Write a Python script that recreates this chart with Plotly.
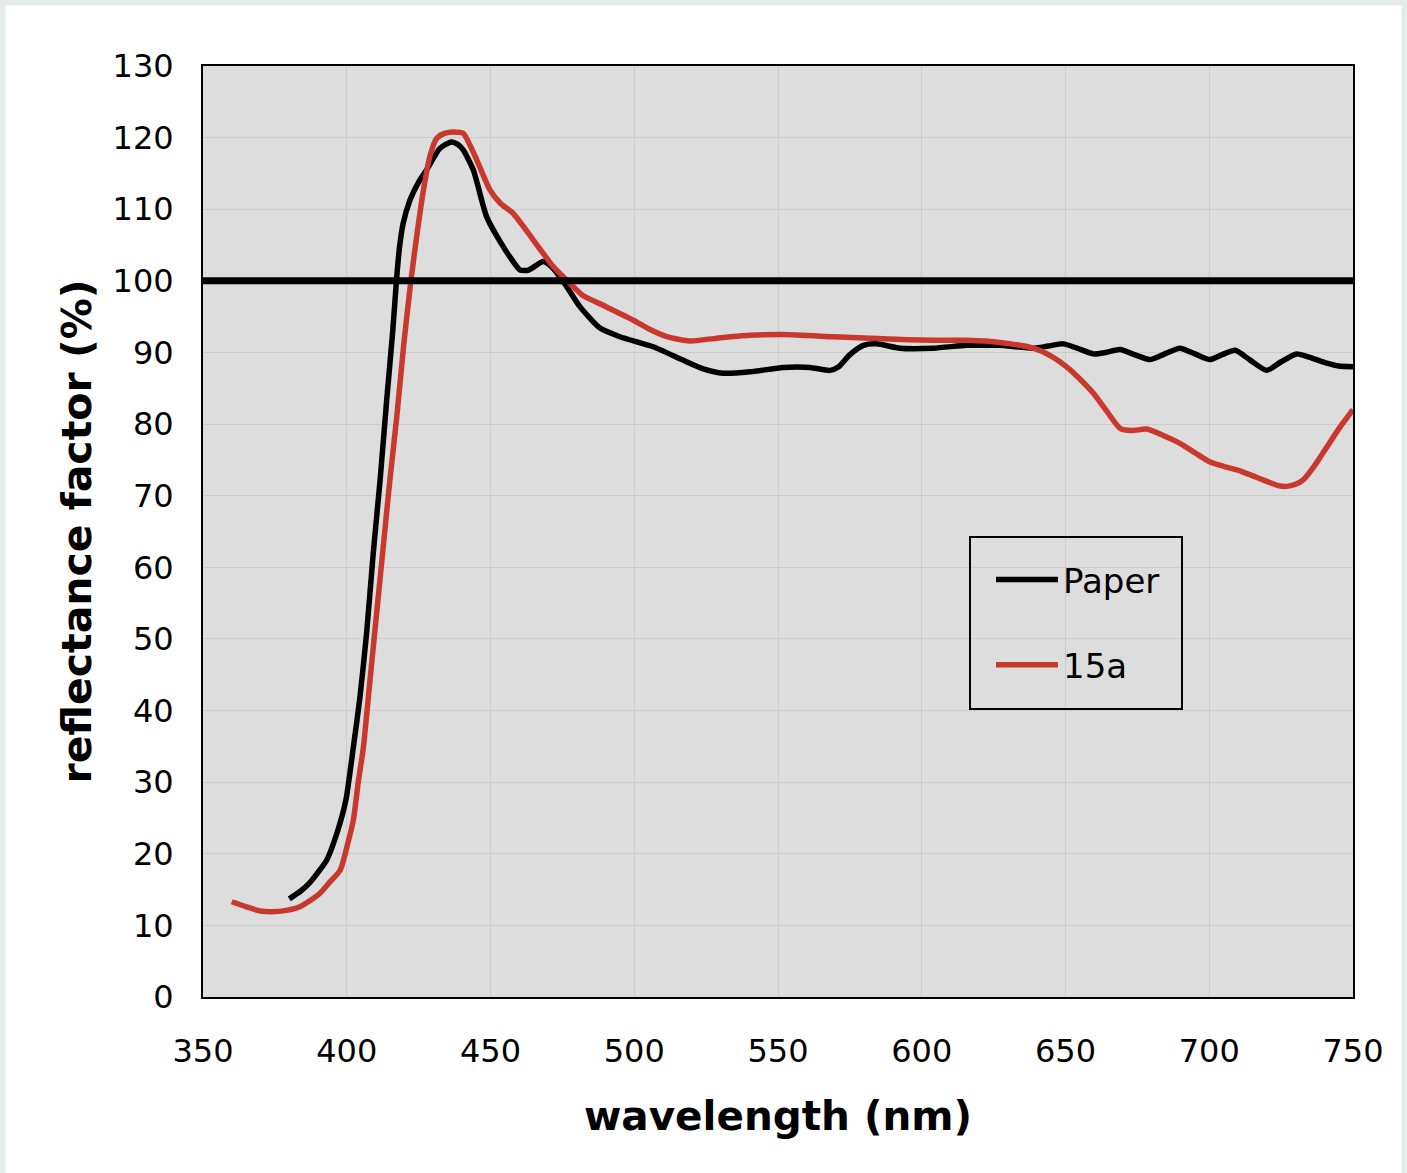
import plotly.graph_objects as go

# ---- data ----
paper_nm = [380, 384, 387, 390, 393, 396.6, 399.7, 402.3, 404.6, 406.9, 409.2, 411.6, 413.9,
            416, 417.3, 418.3, 419.6, 422, 425, 427.8, 432.4, 436.4, 438.5, 440.5, 444, 448.7, 453.3,
            457, 460.3, 463.2, 468.4, 471.9, 476.5, 481.1, 488.1, 495, 506.6, 517.1, 524,
            531, 540.3, 551.9, 561.1, 568.1, 571.1, 575, 579.7, 584.3, 592.4, 604, 615.6,
            621.4, 627.2, 638.8, 644, 649.2, 654, 659.7, 664, 669, 674, 679.4, 684, 689.8,
            695, 700.3, 704.5, 709, 714, 720, 725, 730.4, 735, 740.9, 745, 750]
paper_val = [13.7, 14.8, 15.9, 17.4, 19.1, 22.9, 27.5, 34.9, 41.9, 50.8, 61.9, 72.2, 83.4,
             93, 100.1, 104.5, 108, 111.3, 113.8, 115.5, 118.5, 119.4, 119.1, 118.3, 115.5, 108.9, 105.5,
             103.2, 101.5, 101.5, 102.7, 101.7, 99.2, 96.4, 93.4, 92.2, 90.8, 88.9, 87.7,
             87.1, 87.3, 87.9, 87.9, 87.5, 88.0, 89.7, 91.0, 91.2, 90.6, 90.6, 91.0,
             91.0, 91.0, 90.6, 90.9, 91.2, 90.6, 89.8, 90.0, 90.4, 89.7, 89.0, 89.7, 90.6,
             89.8, 89.0, 89.7, 90.3, 89.0, 87.5, 88.7, 89.8, 89.3, 88.5, 88.1, 88.0]

s15a_nm = [360, 365, 370, 374, 379, 383.7, 387, 390.7, 394, 397.7, 400.4, 402.3, 404, 405.8,
           408.1, 410.4, 412.7, 415, 417.4, 419.8, 422.3, 424.6, 426.8, 429, 431.3,
           434, 437.1, 440.5, 442.8, 445.2, 449.8, 453.5, 457.9, 464.9, 471.8, 476.5, 482,
           488.1, 499.7, 505, 511.3, 519.4, 528.7, 540.3, 551.9, 569.3, 586.6, 604, 615.6,
           627.2, 638.8, 645, 650.4, 655, 659.7, 664, 669, 673, 678.3, 684, 689.8, 695,
           700.3, 705, 709.6, 715, 720, 724, 727, 730, 732.7, 737, 740.9, 745, 750]
s15a_val = [13.3, 12.6, 12.0, 11.9, 12.1, 12.6, 13.4, 14.5, 16.0, 17.7, 21.5, 24.7, 30, 34.9,
            44.3, 53.6, 62.9, 72.2, 81, 91, 100, 107, 113, 117.5, 119.9,
            120.6, 120.8, 120.6, 119, 116.9, 112.7, 110.8, 109.4, 105.7, 102.0, 100.1, 98,
            96.8, 94.5, 93.3, 92.2, 91.6, 92.0, 92.4, 92.5, 92.2, 91.9, 91.7, 91.7,
            91.4, 90.6, 89.5, 88.0, 86.3, 84.3, 82.0, 79.4, 79.1, 79.3, 78.4, 77.3, 76.0,
            74.7, 74.1, 73.6, 72.8, 72.0, 71.4, 71.3, 71.6, 72.2, 74.4, 76.8, 79.3, 82.0]

reference_level = 100
x_ticks = [350, 400, 450, 500, 550, 600, 650, 700, 750]
y_ticks = [0, 10, 20, 30, 40, 50, 60, 70, 80, 90, 100, 110, 120, 130]
series_names = ["Paper", "15a"]

FONT = "DejaVu Sans"
RED = "#c9382c"

fig = go.Figure()
fig.add_trace(go.Scatter(x=paper_nm, y=paper_val, mode="lines", name=series_names[0],
                         line=dict(color="black", width=5.5, shape="spline", smoothing=0.6),
                         legendgroup="a"))
fig.add_trace(go.Scatter(x=s15a_nm, y=s15a_val, mode="lines", name=series_names[1],
                         line=dict(color=RED, width=5.5, shape="spline", smoothing=0.6),
                         legendgroup="b"))

fig.add_hline(y=reference_level, line=dict(color="black", width=7))

W, H = 1407, 1173
ml, mr, mt, mb = 203, 54, 66, 176
pw, ph = W - ml - mr, H - mt - mb


def px_x(p):
    return (p - ml) / pw


def px_y(p):
    return (H - mb - p) / ph


# outer light frame of the picture (left, top, right)
fig.add_shape(type="rect", xref="paper", yref="paper",
              x0=px_x(0), x1=px_x(W), y0=px_y(H + 40), y1=px_y(0),
              line=dict(color="#e4ecea", width=11), fillcolor="rgba(0,0,0,0)", layer="above")
# legend frame
fig.add_shape(type="rect", xref="paper", yref="paper",
              x0=px_x(970), x1=px_x(1182), y0=px_y(709), y1=px_y(537),
              line=dict(color="black", width=2), fillcolor="rgba(0,0,0,0)", layer="above")

fig.update_layout(
    width=W, height=H,
    margin=dict(l=ml, r=mr, t=mt, b=mb, pad=0),
    paper_bgcolor="white",
    plot_bgcolor="#dddddd",
    font=dict(family=FONT, size=32, color="black"),
    showlegend=True,
    legend=dict(x=px_x(991), y=px_y(551), xanchor="left", yanchor="top",
                bgcolor="rgba(0,0,0,0)", borderwidth=0,
                font=dict(family=FONT, size=34, color="black"),
                traceorder="grouped", tracegroupgap=38, itemwidth=62),
    xaxis=dict(range=[350, 750], tickvals=x_ticks, ticks="", showgrid=True,
               gridcolor="#cbcbcb", gridwidth=1, showline=True, linecolor="black",
               linewidth=2, mirror=True, zeroline=False, ticklabelstandoff=25,
               tickfont=dict(size=32),
               title=dict(text="<b>wavelength (nm)</b>", font=dict(size=40.5), standoff=32)),
    yaxis=dict(range=[0, 130], tickvals=y_ticks, ticks="", showgrid=True,
               gridcolor="#cbcbcb", gridwidth=1, showline=True, linecolor="black",
               linewidth=2, mirror=True, zeroline=False, ticklabelstandoff=21,
               tickfont=dict(size=32),
               title=dict(text="<b>reflectance factor (%)</b>", font=dict(size=41), standoff=8)),
)

fig.write_html("out.html", config={"displayModeBar": False},
               post_script="document.body.style.margin='0px';")
